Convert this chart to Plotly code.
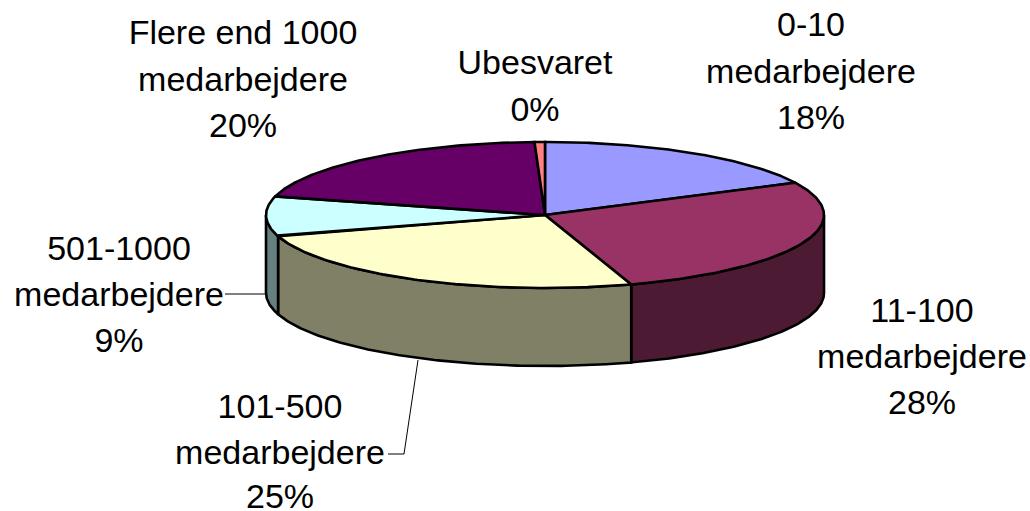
import numpy as np
import plotly.graph_objects as go

categories = ["0-10 medarbejdere", "11-100 medarbejdere", "101-500 medarbejdere",
              "501-1000 medarbejdere", "Flere end 1000 medarbejdere", "Ubesvaret"]
values = [17.7, 27.3, 25.3, 8.8, 20.3, 0.6]
percent_labels = ["18%", "28%", "25%", "9%", "20%", "0%"]
top_colors = ["#9999FF", "#993366", "#FFFFCC", "#CCFFFF", "#660066", "#FF8080"]
side_colors = ["#4C4C80", "#4C1A33", "#808066", "#668080", "#330033", "#804040"]

label_lines = [
    (["0-10", "medarbejdere", "18%"], 811, [27, 74, 120]),
    (["11-100", "medarbejdere", "28%"], 922, [313, 359, 405]),
    (["101-500", "medarbejdere", "25%"], 280, [409, 455, 499]),
    (["501-1000", "medarbejdere", "9%"], 119, [251, 297, 343]),
    (["Flere end 1000", "medarbejdere", "20%"], 243, [35, 82, 128]),
    (["Ubesvaret", "0%"], 535, [65, 112]),
]
leaders = [([225, 266], [294, 294]), ([388, 404, 418], [454, 454, 360])]

CX, CY, RX, RY, DEPTH = 545, 215, 279, 73, 78


def ell(t, dy=0.0):
    return CX + RX * np.sin(t), CY - RY * np.cos(t) + dy


fig = go.Figure()
edges = 2 * np.pi * np.concatenate([[0], np.cumsum(values)]) / sum(values)

# Walls: only the part of each slice on the front half (90 to 270 degrees)
for i in range(len(values)):
    a, b = max(edges[i], np.pi / 2), min(edges[i + 1], 3 * np.pi / 2)
    if b <= a:
        continue
    t = np.linspace(a, b, 120)
    x1, y1 = ell(t)
    x2, y2 = ell(t[::-1], DEPTH)
    fig.add_trace(go.Scatter(
        x=np.r_[x1, x2, x1[0]], y=np.r_[y1, y2, y1[0]], mode="lines", fill="toself",
        fillcolor=side_colors[i], line=dict(color="black", width=2.6),
        hoverinfo="skip", showlegend=False))

# Top face
for i in range(len(values)):
    t = np.linspace(edges[i], edges[i + 1], 120)
    x, y = ell(t)
    fig.add_trace(go.Scatter(
        x=np.r_[CX, x, CX], y=np.r_[CY, y, CY], mode="lines", fill="toself",
        fillcolor=top_colors[i], line=dict(color="black", width=2.6),
        name=categories[i], text=percent_labels[i], hoverinfo="name+text", showlegend=False))

for lx, ly in leaders:
    fig.add_trace(go.Scatter(x=lx, y=ly, mode="lines", line=dict(color="black", width=1),
                             hoverinfo="skip", showlegend=False))

for lines, x, ys in label_lines:
    fig.add_trace(go.Scatter(
        x=[x] * len(lines), y=ys, text=lines, mode="text", textposition="middle center",
        textfont=dict(family="Liberation Sans", size=34, color="black"),
        cliponaxis=False, hoverinfo="skip", showlegend=False))

fig.update_layout(
    width=1030, height=511, margin=dict(l=0, r=0, t=0, b=0),
    paper_bgcolor="white", plot_bgcolor="white",
    xaxis=dict(range=[0, 1030], visible=False, fixedrange=True),
    yaxis=dict(range=[511, 0], visible=False, fixedrange=True),
)
fig.write_html("out.html", config=dict(displayModeBar=False),
               post_script="document.body.style.margin='0';document.documentElement.style.overflow='hidden';")
